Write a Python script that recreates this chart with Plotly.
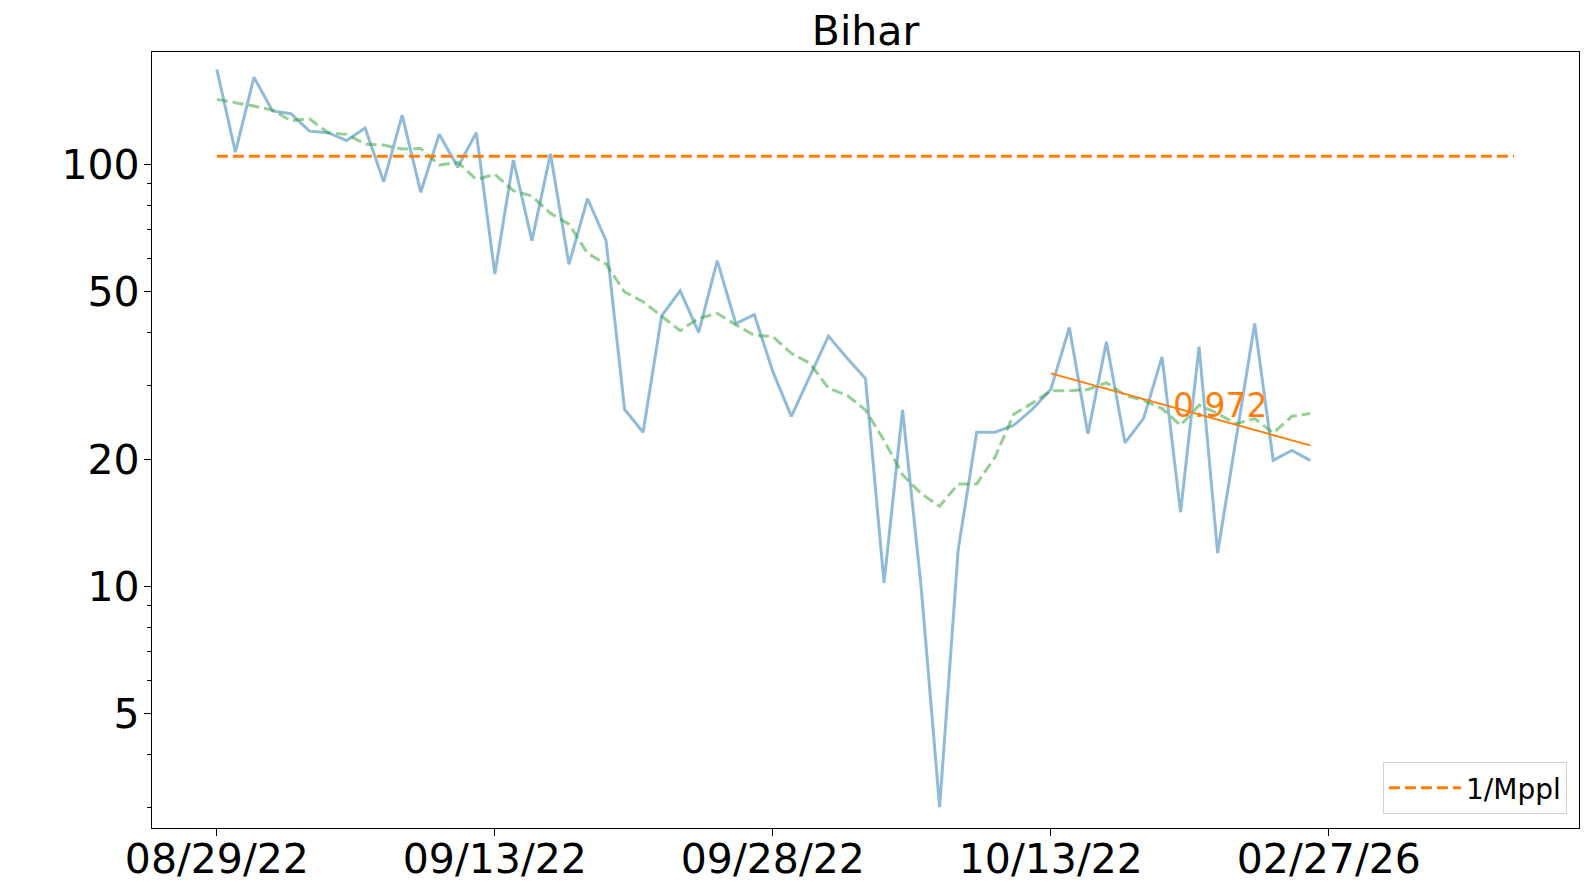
import math
import plotly.graph_objects as go

# ---- data ----
days = list(range(60))
daily = [168, 107, 161, 134, 132, 120, 119, 114, 122, 91, 131, 86, 118, 98.5, 119, 55,
         102.5, 66, 106, 58, 83, 66,
         26.3, 23.2, 43.8, 50.2, 40.0, 59.2, 42.0, 44.1,
         32.3, 25.3, 31.5, 39.2, 34.8, 31.1, 10.2, 26.2, 10.0, 3.0,
         12.2, 23.2, 23.2, 24.1, 26.3, 29.3, 41.1, 23.0, 38.0, 21.9,
         25.0, 35.0, 15.0, 37.0, 12.0, 22.5, 42.0, 19.9, 21.0, 19.9]
rolling = [142.7, 140.4, 137.6, 134.6, 127.0, 128.4, 118.9, 117.9, 111.8, 111.2, 108.8,
           109.2, 99.7, 101.2, 92.2, 94.8, 86.7, 84.2, 76.6, 72.2, 61.6, 58.1,
           49.9, 47.3, 43.8, 40.4, 43.2, 44.4, 41.7, 39.4,
           39.1, 35.7, 33.8, 29.5, 28.4, 26.2, 22.2, 18.4, 16.6, 15.5,
           17.5, 17.5, 20.3, 25.6, 27.2, 29.1, 29.1, 29.3, 30.4, 28.4,
           27.6, 26.4, 24.1, 26.9, 25.7, 24.3, 25.0, 23.1, 25.3, 25.7]
mppl_x = [0, 70]
mppl_y = [104.6, 104.6]
trend_x = [45, 59]
trend_y = [32.0, 21.6]
trend_label = "0.972"
trend_label_pos = (51.5, 26.8)
tick_vals = [0, 15, 30, 45, 60]
tick_text = ["08/29/22", "09/13/22", "09/28/22", "10/13/22", "02/27/26"]
y_tick_vals = [5, 10, 20, 50, 100]
y_minor_vals = [3, 4, 6, 7, 8, 9, 30, 40, 60, 70, 80, 90]
title = "Bihar"

FONT = "DejaVu Sans"
W, H = 1590, 890
# the page body has an 8px default margin, so the margins are compensated
L, R, T, B = 144, 19, 44, 70

fig = go.Figure()
fig.add_trace(go.Scatter(x=days, y=daily, mode="lines",
                         line=dict(color="rgba(31,119,180,0.5)", width=3),
                         showlegend=False))
fig.add_trace(go.Scatter(x=days, y=rolling, mode="lines",
                         line=dict(color="rgba(44,160,44,0.5)", width=3, dash="11px,5px"),
                         showlegend=False))
fig.add_trace(go.Scatter(x=mppl_x, y=mppl_y, mode="lines", name="1/Mppl",
                         line=dict(color="#ff7f0e", width=3, dash="11px,5px")))
fig.add_trace(go.Scatter(x=trend_x, y=trend_y, mode="lines",
                         line=dict(color="#ff7f0e", width=2), showlegend=False))

fig.add_annotation(x=trend_label_pos[0], y=math.log10(trend_label_pos[1]), text=trend_label,
                   showarrow=False, xanchor="left", yanchor="middle",
                   font=dict(family=FONT, size=33, color="#ff7f0e"))

axis_common = dict(showline=True, linecolor="black", linewidth=1.3, mirror=True,
                   ticks="outside", ticklen=7, tickwidth=1.3, tickcolor="black",
                   showgrid=False, zeroline=False, automargin=False,
                   tickfont=dict(family=FONT, size=41, color="black"))

fig.update_xaxes(range=[-3.5, 73.5], tickmode="array", tickvals=tick_vals,
                 ticktext=tick_text, ticklabelstandoff=-12, **axis_common)
fig.update_yaxes(type="log", range=[math.log10(2.677), math.log10(184.8)],
                 tickmode="array", tickvals=y_tick_vals,
                 ticktext=[str(v) for v in y_tick_vals], ticklabelstandoff=-4,
                 minor=dict(tickmode="array", tickvals=y_minor_vals, ticks="outside",
                            ticklen=4, tickwidth=1, tickcolor="black"),
                 **axis_common)

fig.update_layout(
    width=W, height=H,
    margin=dict(l=L, r=R, t=T, b=B, autoexpand=False),
    plot_bgcolor="white", paper_bgcolor="white",
    title=dict(text=title, x=0.5, xref="paper", y=1 - 23 / H, yref="container",
               xanchor="center", yanchor="middle",
               font=dict(family=FONT, size=41, color="black")),
    legend=dict(x=0.9916, y=0.018, xanchor="right", yanchor="bottom",
                bgcolor="white", bordercolor="#d0d0d0", borderwidth=1,
                entrywidth=210, itemwidth=72,
                font=dict(family=FONT, size=28, color="black")),
    font=dict(family=FONT),
)

fig.write_html("out.html")
